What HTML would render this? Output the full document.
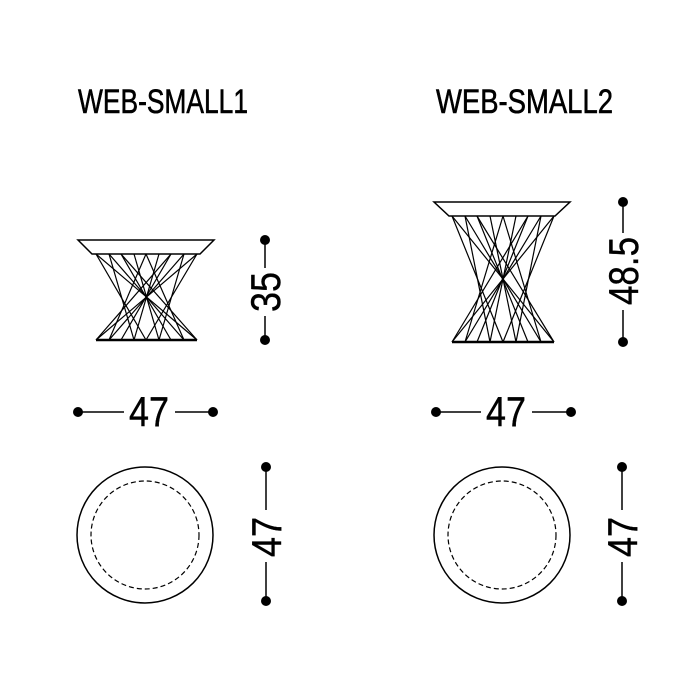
<!DOCTYPE html>
<html><head><style>html,body{margin:0;padding:0;background:#fff}svg{display:block}</style></head><body>
<svg width="700" height="700" viewBox="0 0 700 700" xmlns="http://www.w3.org/2000/svg" font-family="'Liberation Sans',sans-serif">
<rect width="700" height="700" fill="#fff"/>
<g stroke="#000" stroke-width="0.6">
<text x="78" y="113" font-size="34" textLength="170" lengthAdjust="spacingAndGlyphs">WEB-SMALL1</text>
<text x="436" y="113" font-size="34" textLength="177" lengthAdjust="spacingAndGlyphs">WEB-SMALL2</text>
</g>

<g stroke="#000" fill="none" stroke-width="1.5">
<polygon points="78,240 214,240 200,254 92,254"/>
<line x1="96" y1="340" x2="197" y2="340" stroke-width="2.5"/>
<g stroke-width="1.2">
<line x1="96" y1="254" x2="197" y2="340"/><line x1="197" y1="254" x2="96" y2="340"/>
<line x1="109" y1="254" x2="184" y2="340"/><line x1="184" y1="254" x2="109" y2="340"/>
<line x1="121" y1="254" x2="171" y2="340"/><line x1="171" y1="254" x2="121" y2="340"/>
<line x1="134" y1="254" x2="159" y2="340"/><line x1="159" y1="254" x2="134" y2="340"/>
<line x1="146" y1="254" x2="109" y2="340"/><line x1="146" y1="254" x2="184" y2="340"/>
<line x1="96" y1="254" x2="146" y2="340"/><line x1="197" y1="254" x2="146" y2="340"/>
<line x1="109" y1="254" x2="134" y2="340"/><line x1="184" y1="254" x2="159" y2="340"/>
<line x1="121" y1="254" x2="197" y2="340"/><line x1="171" y1="254" x2="96" y2="340"/>
</g>
<polygon points="434,202 570,202 555,216 449,216"/>
<line x1="452" y1="342" x2="554" y2="342" stroke-width="2.5"/>
<g stroke-width="1.2">
<line x1="452" y1="216" x2="554" y2="342"/><line x1="554" y1="216" x2="452" y2="342"/>
<line x1="465" y1="216" x2="541" y2="342"/><line x1="541" y1="216" x2="465" y2="342"/>
<line x1="477" y1="216" x2="528" y2="342"/><line x1="528" y1="216" x2="477" y2="342"/>
<line x1="490" y1="216" x2="516" y2="342"/><line x1="516" y1="216" x2="490" y2="342"/>
<line x1="503" y1="216" x2="465" y2="342"/><line x1="503" y1="216" x2="541" y2="342"/>
<line x1="452" y1="216" x2="503" y2="342"/><line x1="554" y1="216" x2="503" y2="342"/>
<line x1="465" y1="216" x2="490" y2="342"/><line x1="541" y1="216" x2="516" y2="342"/>
<line x1="477" y1="216" x2="554" y2="342"/><line x1="528" y1="216" x2="452" y2="342"/>
</g>
<circle cx="145" cy="535" r="68"/>
<circle cx="145" cy="535" r="54" stroke-dasharray="5,3" stroke-width="1.2"/>
<circle cx="502" cy="535" r="68"/>
<circle cx="502" cy="535" r="54" stroke-dasharray="5,3" stroke-width="1.2"/>
<line x1="265" y1="240" x2="265" y2="268"/><line x1="265" y1="316" x2="265" y2="340"/>
<line x1="623" y1="202" x2="623" y2="233"/><line x1="623" y1="310" x2="623" y2="342"/>
<line x1="78" y1="412" x2="124" y2="412"/><line x1="175" y1="412" x2="213" y2="412"/>
<line x1="436" y1="412" x2="481" y2="412"/><line x1="532" y1="412" x2="571" y2="412"/>
<line x1="266" y1="467" x2="266" y2="510"/><line x1="266" y1="562" x2="266" y2="601"/>
<line x1="622" y1="467" x2="622" y2="510"/><line x1="622" y1="562" x2="622" y2="601"/>
</g>
<g fill="#000">
<circle cx="265" cy="240" r="5"/><circle cx="265" cy="340" r="5"/>
<circle cx="623" cy="202" r="5"/><circle cx="623" cy="342" r="5"/>
<circle cx="78" cy="412" r="5"/><circle cx="213" cy="412" r="5"/>
<circle cx="436" cy="412" r="5"/><circle cx="571" cy="412" r="5"/>
<circle cx="266" cy="467" r="5"/><circle cx="266" cy="601" r="5"/>
<circle cx="622" cy="467" r="5"/><circle cx="622" cy="601" r="5"/>
</g>
<g font-size="42" stroke="#000" stroke-width="0.4">
<text x="129" y="426" textLength="40" lengthAdjust="spacingAndGlyphs">47</text>
<text x="486" y="426" textLength="40" lengthAdjust="spacingAndGlyphs">47</text>
<text transform="translate(280,312) rotate(-90)" textLength="40" lengthAdjust="spacingAndGlyphs">35</text>
<text transform="translate(638,305) rotate(-90)" textLength="68" lengthAdjust="spacingAndGlyphs">48.5</text>
<text transform="translate(281,557) rotate(-90)" textLength="40" lengthAdjust="spacingAndGlyphs">47</text>
<text transform="translate(637,557) rotate(-90)" textLength="40" lengthAdjust="spacingAndGlyphs">47</text>
</g>
</svg>
</body></html>
